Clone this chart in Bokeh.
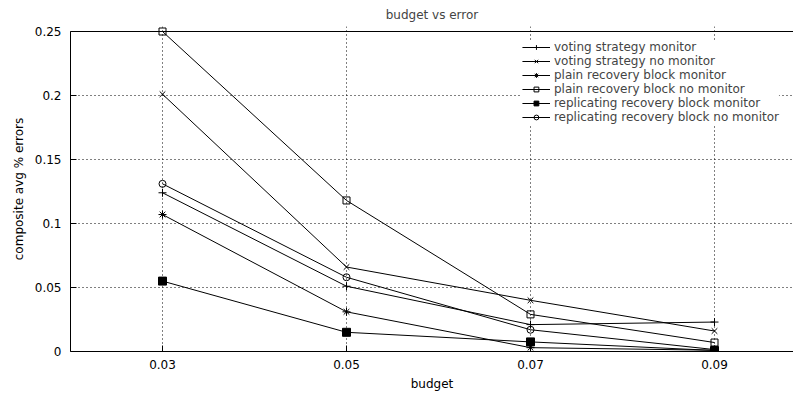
from bokeh.plotting import figure
from bokeh.models import Range1d, FixedTicker, Span, Legend, LegendItem, CustomJSTickFormatter
from bokeh.embed import file_html
from bokeh.resources import INLINE

budget = [0.03, 0.05, 0.07, 0.09]
voting_monitor = [0.124, 0.051, 0.021, 0.023]
voting_no_monitor = [0.201, 0.066, 0.040, 0.016]
plain_monitor = [0.107, 0.031, 0.003, 0.001]
plain_no_monitor = [0.250, 0.118, 0.029, 0.007]
repl_monitor = [0.055, 0.015, 0.0075, 0.0008]
repl_no_monitor = [0.131, 0.058, 0.017, 0.0015]

x_ticks = [0.03, 0.05, 0.07, 0.09]
y_ticks = [0, 0.05, 0.1, 0.15, 0.2, 0.25]

series = [
    ("voting strategy monitor", voting_monitor, "cross", None, 8),
    ("voting strategy no monitor", voting_no_monitor, "x", None, 8),
    ("plain recovery block monitor", plain_monitor, "asterisk", None, 8),
    ("plain recovery block no monitor", plain_no_monitor, "square", None, 7),
    ("replicating recovery block monitor", repl_monitor, "square", "black", 8),
    ("replicating recovery block no monitor", repl_no_monitor, "circle", None, 7),
]

FONT = "DejaVu Sans"
FS = "12px"

p = figure(width=793, height=393, output_backend="svg", toolbar_location=None,
           x_range=Range1d(0.02, 0.02 + 723 / 9200),
           y_range=Range1d(0, 0.25 + 5 / 1280),
           min_border_left=70, min_border_right=0, min_border_top=26,
           min_border_bottom=42, title="budget vs error")

p.outline_line_color = None
p.background_fill_color = "white"
p.border_fill_color = "white"

p.title.align = "center"
p.title.text_font = FONT
p.title.text_font_size = FS
p.title.text_font_style = "normal"
p.title.standoff = 10
p.title.offset = 0

fmt = CustomJSTickFormatter(code="return String(Number(tick.toPrecision(6)));")

xa = p.xaxis[0]
xa.ticker = FixedTicker(ticks=x_ticks)
xa.formatter = fmt
xa.axis_label = "budget"
ya = p.yaxis[0]
ya.ticker = FixedTicker(ticks=y_ticks)
ya.formatter = fmt
ya.axis_label = "composite avg % errors"
ya.bounds = (0, 0.25)

for ax in (xa, ya):
    ax.major_tick_in = 6
    ax.major_tick_out = 0
    ax.minor_tick_in = 0
    ax.minor_tick_out = 0
    ax.axis_line_color = "black"
    ax.major_tick_line_color = "black"
    ax.major_label_text_font = FONT
    ax.major_label_text_font_size = FS
    ax.major_label_text_color = "black"
    ax.axis_label_text_font = FONT
    ax.axis_label_text_font_size = FS
    ax.axis_label_text_font_style = "normal"
    ax.axis_label_text_color = "black"

xa.major_label_standoff = 8
xa.axis_label_standoff = 5
ya.major_label_standoff = 9
ya.axis_label_standoff = 6

for g in (p.xgrid[0], p.ygrid[0]):
    g.grid_line_color = "black"
    g.grid_line_dash = "1 3"
    g.grid_line_width = 1
p.xgrid[0].ticker = FixedTicker(ticks=x_ticks)
p.ygrid[0].ticker = FixedTicker(ticks=y_ticks)

items = []
for label, vals, marker, fill, size in series:
    r1 = p.line(budget, vals, line_color="black", line_width=1)
    r2 = p.scatter(budget, vals, marker=marker, size=size,
                   line_color="black", fill_color=fill, line_width=1)
    items.append(LegendItem(label=label, renderers=[r1, r2]))

legend = Legend(items=items, location="top_right", margin=14, padding=14, spacing=0,
                label_height=12, glyph_height=12, glyph_width=28, label_standoff=4,
                label_text_font=FONT, label_text_font_size=FS,
                background_fill_color="white", background_fill_alpha=1.0,
                border_line_color=None)
p.add_layout(legend)

p.add_layout(Span(location=0.25, dimension="width", line_color="black", line_width=1, level="overlay"))

open("out.html", "w").write(file_html(p, INLINE))
